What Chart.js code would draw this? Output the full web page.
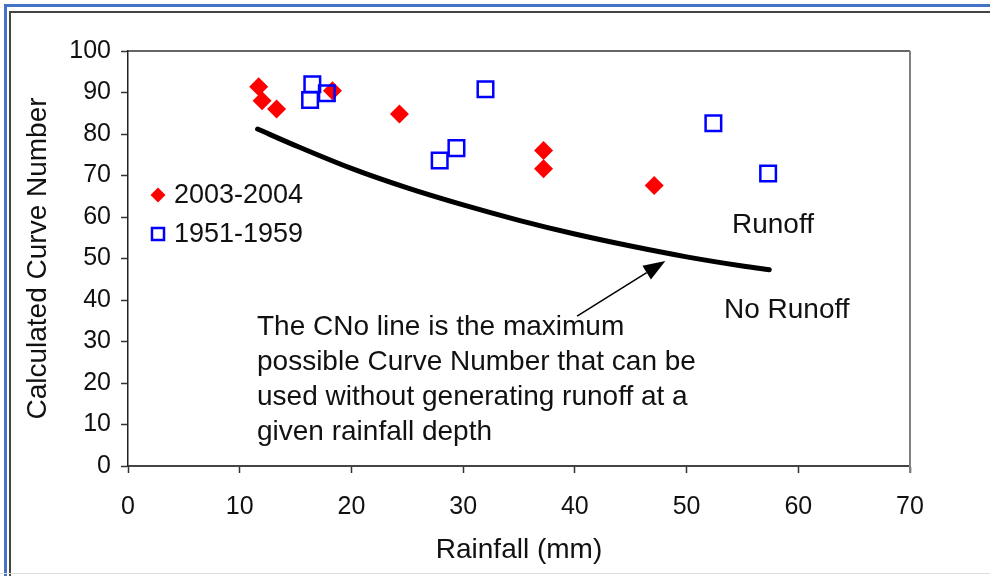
<!DOCTYPE html>
<html>
<head>
<meta charset="utf-8">
<script src="https://cdn.jsdelivr.net/npm/chart.js@4.4.1/dist/chart.umd.min.js"></script>
<style>
  html, body { margin: 0; padding: 0; background: #fff; }
  #wrap { position: relative; width: 990px; height: 576px; overflow: hidden; }
  #frameBlue { position: absolute; left: 4px; top: 4px; right: -10px; bottom: -10px; border-top: 3px solid #4472c4; border-left: 3px solid #4472c4; }
  #frameDark { position: absolute; left: 9px; top: 11px; right: -10px; bottom: -10px; border-top: 2px solid #444; border-left: 2px solid #444; }
  #frameBottom { position: absolute; left: 0; right: 0; bottom: 2px; height: 1px; background: #ddd; }
  #chartBox { position: absolute; left: 0; top: 0; width: 990px; height: 576px; }
</style>
</head>
<body>
<div id="wrap">
  <div id="frameBlue"></div>
  <div id="frameDark"></div>
  <div id="frameBottom"></div>
  <div id="chartBox"><canvas id="cnChart"></canvas></div>
</div>
<script>
// axis ticks
const xTicks = [0, 10, 20, 30, 40, 50, 60, 70];
const yTicks = [0, 10, 20, 30, 40, 50, 60, 70, 80, 90, 100];

// 2003-2004 events: rainfall (mm) and calculated curve number
const rain2003 = [11.7, 12.0, 13.3, 18.3, 24.3, 37.2, 37.2, 47.1];
const cn2003   = [91.4, 88.0, 86.0, 90.4, 84.8, 76.0, 71.6, 67.6];

// 1951-1959 events
const rain1951 = [16.5, 16.3, 17.8, 32.0, 29.4, 27.9, 52.4, 57.3];
const cn1951   = [92.0, 88.2, 89.8, 90.8, 76.6, 73.6, 82.6, 70.5];

// CNo line (max CN without runoff)
const cnoRain = [11.6, 15, 20, 25, 30, 35, 40, 45, 50, 55, 57.4];
const cnoCN   = [81.2, 77.2, 71.7, 67.0, 62.9, 59.2, 55.9, 53.0, 50.4, 48.2, 47.3];

const seriesNames = ['2003-2004', '1951-1959'];
const noteLines = [
    'The CNo line is the maximum',
    'possible Curve Number that can be',
    'used without generating runoff at a',
    'given rainfall depth'
];

const toPoints = (xs, ys) => xs.map((x, i) => ({ x: x, y: ys[i] }));

const FONT = "'Liberation Sans', Arial, Helvetica, sans-serif";
const INK = '#111';
const RED = '#ff0000';
const BLUE = '#0000ff';
Chart.defaults.font.family = FONT;
Chart.defaults.color = INK;

// box lines, arrow, legend and notes on top of the plot
const decorations = {
    id: 'decorations',
    afterDraw(chart) {
        const { ctx, chartArea: a, scales } = chart;
        const xs = scales.x, ys = scales.y;
        const px = v => xs.getPixelForValue(v);
        const py = v => ys.getPixelForValue(v);

        ctx.save();
        // top and right edges of the plot box
        ctx.strokeStyle = '#333';
        ctx.lineWidth = 1.5;
        ctx.beginPath();
        ctx.moveTo(a.left, a.top);
        ctx.lineTo(a.right, a.top);
        ctx.stroke();
        ctx.strokeStyle = '#808080';
        ctx.lineWidth = 2;
        ctx.beginPath();
        ctx.moveTo(a.right, a.top);
        ctx.lineTo(a.right, a.bottom + 7);
        ctx.stroke();

        // arrow pointing at the CNo line
        const tx = px(40.2), ty = py(36.1);
        const hx = px(48.1), hy = py(49.4);
        const ang = Math.atan2(hy - ty, hx - tx);
        const headLen = 22, headHalf = 8;
        const bx = hx - headLen * Math.cos(ang), by = hy - headLen * Math.sin(ang);
        ctx.strokeStyle = '#000';
        ctx.lineWidth = 1.5;
        ctx.beginPath();
        ctx.moveTo(tx, ty);
        ctx.lineTo(bx, by);
        ctx.stroke();
        ctx.fillStyle = '#000';
        ctx.beginPath();
        ctx.moveTo(hx, hy);
        ctx.lineTo(bx + headHalf * Math.sin(ang), by - headHalf * Math.cos(ang));
        ctx.lineTo(bx - headHalf * Math.sin(ang), by + headHalf * Math.cos(ang));
        ctx.closePath();
        ctx.fill();

        // notes
        ctx.fillStyle = INK;
        ctx.textAlign = 'left';
        ctx.textBaseline = 'alphabetic';
        ctx.font = '28px ' + FONT;
        ctx.fillText('Runoff', 732, 233);
        ctx.fillText('No Runoff', 724, 318);
        noteLines.forEach((line, i) => ctx.fillText(line, 257, 335 + i * 35));

        // legend inside the plot
        ctx.fillStyle = RED;
        Chart.helpers.drawPoint(ctx, { pointStyle: 'rectRot', radius: 7.5, borderWidth: 0 }, 158, 195);
        ctx.fillStyle = '#fff';
        ctx.strokeStyle = BLUE;
        ctx.lineWidth = 2.5;
        Chart.helpers.drawPoint(ctx, { pointStyle: 'rect', radius: 8.5, borderWidth: 2.5 }, 158, 234);
        ctx.fillStyle = INK;
        ctx.font = '27px ' + FONT;
        ctx.fillText(seriesNames[0], 174, 203);
        ctx.fillText(seriesNames[1], 174, 242);
        ctx.restore();
    }
};

const ctx = document.getElementById('cnChart').getContext('2d');
new Chart(ctx, {
    type: 'scatter',
    data: {
        datasets: [
            {
                label: 'CNo',
                data: toPoints(cnoRain, cnoCN),
                showLine: true,
                borderColor: '#000',
                borderWidth: 5,
                borderCapStyle: 'round',
                pointRadius: 0,
                cubicInterpolationMode: 'monotone',
                order: 3
            },
            {
                label: seriesNames[0],
                data: toPoints(rain2003, cn2003),
                pointStyle: 'rectRot',
                pointRadius: 9.5,
                backgroundColor: RED,
                borderColor: RED,
                borderWidth: 0,
                order: 2
            },
            {
                label: seriesNames[1],
                data: toPoints(rain1951, cn1951),
                pointStyle: 'rect',
                pointRadius: 11,
                backgroundColor: 'rgba(255,255,255,0)',
                borderColor: BLUE,
                borderWidth: 2.5,
                order: 1
            }
        ]
    },
    options: {
        responsive: true,
        maintainAspectRatio: false,
        animation: false,
        events: [],
        layout: { padding: { left: 0, top: 51, right: 80, bottom: 0 } },
        plugins: {
            legend: { display: false },
            tooltip: { enabled: false }
        },
        scales: {
            x: {
                type: 'linear',
                min: xTicks[0],
                max: xTicks[xTicks.length - 1],
                afterFit: s => { s.height = 110; },
                afterBuildTicks: s => { s.ticks = xTicks.map(v => ({ value: v })); },
                ticks: { font: { size: 25 }, color: INK, padding: 19, maxRotation: 0 },
                grid: { drawOnChartArea: false, drawTicks: true, tickLength: 7, color: '#333', tickWidth: 1.5 },
                border: { display: true, color: '#444', width: 2 },
                title: { display: true, text: 'Rainfall (mm)', font: { size: 28 }, color: INK, padding: { top: 0, bottom: 9 } }
            },
            y: {
                type: 'linear',
                min: yTicks[0],
                max: yTicks[yTicks.length - 1],
                afterFit: s => { s.width = 128; },
                afterBuildTicks: s => { s.ticks = yTicks.map(v => ({ value: v })); },
                ticks: { font: { size: 25 }, color: INK, padding: 10 },
                grid: { drawOnChartArea: false, drawTicks: true, tickLength: 7, color: '#333', tickWidth: 1.5 },
                border: { display: true, color: '#222', width: 1.5 },
                title: { display: true, text: 'Calculated Curve Number', font: { size: 28 }, color: INK, padding: { top: 21, bottom: 0 } }
            }
        }
    },
    plugins: [decorations]
});
</script>
</body>
</html>
